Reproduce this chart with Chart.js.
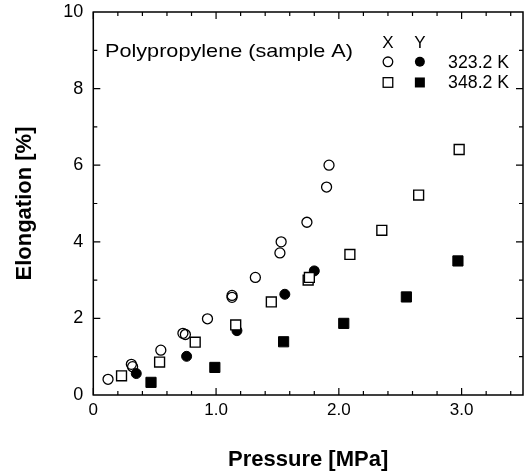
<!DOCTYPE html>
<html><head><meta charset="utf-8">
<script src="https://cdn.jsdelivr.net/npm/chart.js@4"></script>
<style>html,body{margin:0;padding:0;background:#fff}#wrap{width:525px;height:475px}</style>
</head><body><div id="wrap"><canvas id="c" width="525" height="475"></canvas></div>
<script>
// ---- data ----
const xTicks = [0, 1, 2, 3];
const yTicks = [0, 2, 4, 6, 8, 10];

// X, 323.2 K (open circles)
const openCircleX = [0.12, 0.31, 0.32, 0.55, 0.73, 0.75, 0.93, 1.13, 1.13, 1.32, 1.52, 1.53, 1.74, 1.90, 1.92];
const openCircleY = [0.41, 0.80, 0.74, 1.17, 1.61, 1.58, 1.99, 2.60, 2.55, 3.07, 3.71, 4.00, 4.51, 5.43, 6.00];
// Y, 323.2 K (filled circles)
const filledCircleX = [0.35, 0.76, 1.17, 1.56, 1.80];
const filledCircleY = [0.56, 1.01, 1.68, 2.63, 3.24];
// X, 348.2 K (open squares)
const openSquareX = [0.23, 0.54, 0.83, 1.16, 1.45, 1.75, 1.76, 2.09, 2.35, 2.65, 2.98];
const openSquareY = [0.50, 0.86, 1.38, 1.83, 2.43, 3.00, 3.07, 3.67, 4.30, 5.22, 6.41];
// Y, 348.2 K (filled squares)
const filledSquareX = [0.47, 0.99, 1.55, 2.04, 2.55, 2.97];
const filledSquareY = [0.33, 0.72, 1.39, 1.87, 2.56, 3.50];

const titleText = 'Polypropylene (sample A)';
const legendRows = ['323.2 K', '348.2 K'];
const xTitle = 'Pressure [MPa]';
const yTitle = 'Elongation [%]';

const FONT = '"Liberation Sans", Arial, Helvetica, sans-serif';

function pts(xs, ys) { return xs.map((x, i) => ({x: x, y: ys[i]})); }

function drawStretched(ctx, text, x, y, fontPx, targetW) {
  ctx.font = fontPx + 'px ' + FONT;
  const w = ctx.measureText(text).width;
  ctx.save();
  ctx.translate(x, y);
  ctx.scale(targetW / w, 1);
  ctx.fillText(text, 0, 0);
  ctx.restore();
}

const framePlugin = {
  id: 'frameTicks',
  afterDatasetsDraw(chart) {
    const ctx = chart.ctx, a = chart.chartArea;
    const xs = chart.scales.x, ys = chart.scales.y;
    ctx.save();
    ctx.strokeStyle = '#000';
    ctx.lineWidth = 1.5;
    ctx.strokeRect(a.left, a.top, a.right - a.left, a.bottom - a.top);
    ctx.lineWidth = 1.2;
    ctx.beginPath();
    for (let i = 0; i <= 17; i++) {
      const v = i * 0.2;
      const px = xs.getPixelForValue(v);
      const len = (i % 5 === 0) ? 7 : 4;
      ctx.moveTo(px, a.bottom); ctx.lineTo(px, a.bottom - len);
      ctx.moveTo(px, a.top); ctx.lineTo(px, a.top + len);
    }
    for (let v = 1; v <= 9; v++) {
      const py = ys.getPixelForValue(v);
      const len = (v % 2 === 0) ? 7 : 4;
      ctx.moveTo(a.left, py); ctx.lineTo(a.left + len, py);
      ctx.moveTo(a.right, py); ctx.lineTo(a.right - len, py);
    }
    ctx.stroke();

    // annotation text + key
    ctx.fillStyle = '#000';
    ctx.textBaseline = 'alphabetic';
    ctx.textAlign = 'left';
    drawStretched(ctx, titleText, xs.getPixelForValue(0.095), ys.getPixelForValue(8.83), 19, 248);

    const kx1 = xs.getPixelForValue(2.4), kx2 = xs.getPixelForValue(2.66);
    ctx.font = '17px ' + FONT;
    ctx.textAlign = 'center';
    ctx.fillText('X', kx1, ys.getPixelForValue(9.05));
    ctx.fillText('Y', kx2, ys.getPixelForValue(9.05));
    ctx.textAlign = 'left';
    const tx = xs.getPixelForValue(2.89);
    const r1 = ys.getPixelForValue(8.7), r2 = ys.getPixelForValue(8.16);
    ctx.textBaseline = 'middle';
    drawStretched(ctx, legendRows[0], tx, r1 + 1, 18, 61);
    drawStretched(ctx, legendRows[1], tx, r2 + 1, 18, 61);
    ctx.lineWidth = 1.3;
    ctx.beginPath(); ctx.arc(kx1, r1, 4.8, 0, Math.PI * 2); ctx.stroke();
    ctx.beginPath(); ctx.arc(kx2, r1, 5, 0, Math.PI * 2); ctx.fill();
    ctx.strokeRect(kx1 - 4.8, r2 - 4.8, 9.6, 9.6);
    ctx.fillRect(kx2 - 5, r2 - 5, 10, 10);
    ctx.restore();
  }
};

new Chart(document.getElementById('c'), {
  type: 'scatter',
  data: {
    datasets: [
      {label: 'X 348.2 K', data: pts(openSquareX, openSquareY), order: 0,
       pointStyle: 'rect', pointRadius: 7, pointBorderWidth: 1.4, borderColor: '#000', backgroundColor: '#fff', pointBorderColor: '#000', pointBackgroundColor: '#fff'},
      {label: 'Y 323.2 K', data: pts(filledCircleX, filledCircleY), order: 1,
       pointStyle: 'circle', pointRadius: 5, pointBorderWidth: 1, borderColor: '#000', backgroundColor: '#000', pointBorderColor: '#000', pointBackgroundColor: '#000'},
      {label: 'X 323.2 K', data: pts(openCircleX, openCircleY), order: 2,
       pointStyle: 'circle', pointRadius: 5, pointBorderWidth: 1.3, borderColor: '#000', backgroundColor: 'rgba(0,0,0,0)', pointBorderColor: '#000', pointBackgroundColor: 'rgba(0,0,0,0)'},
      {label: 'Y 348.2 K', data: pts(filledSquareX, filledSquareY), order: 3,
       pointStyle: 'rect', pointRadius: 7.2, pointBorderWidth: 1, borderColor: '#000', backgroundColor: '#000', pointBorderColor: '#000', pointBackgroundColor: '#000'}
    ]
  },
  options: {
    responsive: false,
    animation: false,
    devicePixelRatio: 1,
    layout: {autoPadding: false, padding: {top: 12, right: 2, left: 0, bottom: 0}},
    plugins: {legend: {display: false}, tooltip: {enabled: false}},
    scales: {
      x: {
        type: 'linear', min: 0, max: 3.5,
        afterBuildTicks: s => { s.ticks = xTicks.map(v => ({value: v})); },
        afterFit: s => { s.height = 80; s.paddingLeft = 0; s.paddingRight = 0; },
        ticks: {callback: v => (v === 0 ? '0' : v.toFixed(1)), font: {size: 17, family: FONT}, color: '#000', padding: 5, maxRotation: 0, autoSkip: false},
        grid: {display: false, drawTicks: false},
        border: {display: false},
        title: {display: true, text: xTitle, color: '#000', font: {size: 22, weight: 'bold', family: FONT}, padding: {top: 0, bottom: 2}}
      },
      y: {
        type: 'linear', min: 0, max: 10,
        afterBuildTicks: s => { s.ticks = yTicks.map(v => ({value: v})); },
        afterFit: s => { s.width = 93.3; s.paddingTop = 0; s.paddingBottom = 0; },
        ticks: {callback: v => String(v), font: {size: 18, family: FONT}, color: '#000', padding: 10, autoSkip: false},
        grid: {display: false, drawTicks: false},
        border: {display: false},
        title: {display: true, text: yTitle, color: '#000', font: {size: 22, weight: 'bold', family: FONT}, padding: {top: 12, bottom: 0}}
      }
    }
  },
  plugins: [framePlugin]
});
</script>
</body></html>
